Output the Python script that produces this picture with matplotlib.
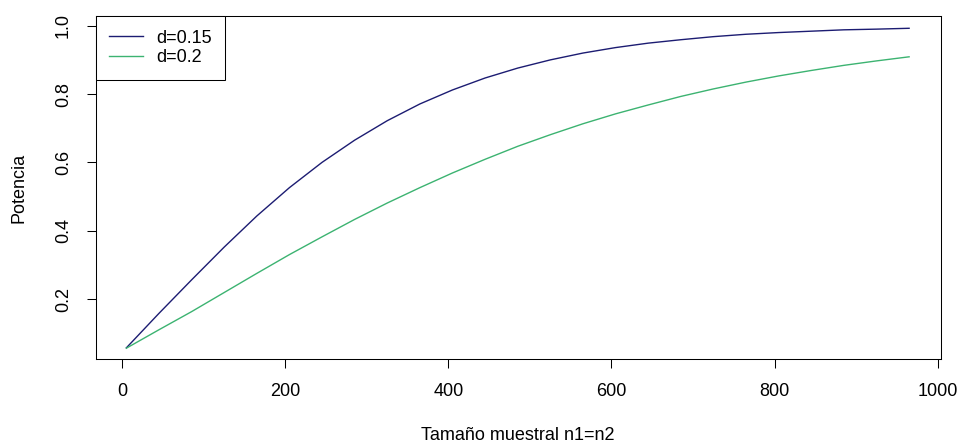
import matplotlib
matplotlib.use("Agg")
import matplotlib.pyplot as plt

# sample size per group
n = [5, 45, 85, 125, 165, 205, 245, 285, 325, 365, 405, 445, 485,
     525, 565, 605, 645, 685, 725, 765, 805, 845, 885, 925, 965]

# power curves
power_d015 = [0.057, 0.158, 0.256, 0.352, 0.443, 0.526, 0.600, 0.665, 0.722,
              0.771, 0.812, 0.847, 0.876, 0.900, 0.920, 0.936, 0.949, 0.959,
              0.968, 0.975, 0.980, 0.984, 0.988, 0.990, 0.9925]
power_d02 = [0.056, 0.110, 0.163, 0.219, 0.275, 0.330, 0.382, 0.433, 0.481,
             0.526, 0.569, 0.609, 0.647, 0.681, 0.713, 0.742, 0.768, 0.793,
             0.815, 0.835, 0.853, 0.869, 0.884, 0.897, 0.909]

labels = ["d=0.15", "d=0.2"]
x_ticks = [0, 200, 400, 600, 800, 1000]
y_ticks = [0.2, 0.4, 0.6, 0.8, 1.0]

plt.rcParams["font.family"] = ["Liberation Sans", "DejaVu Sans"]
plt.rcParams["font.size"] = 13

fig = plt.figure(figsize=(9.58, 4.45), dpi=100)
ax = fig.add_axes([0.0999, 0.1926, 0.882, 0.7714])

ax.plot(n, power_d015, color="#1c1c72", lw=1.0, label=labels[0])
ax.plot(n, power_d02, color="#3cb371", lw=1.0, label=labels[1])

ax.set_xlim(-32.6, 1003.7)
ax.set_ylim(0.0235, 1.0284)
ax.set_xticks(x_ticks)
ax.set_xticklabels([str(t) for t in x_ticks])
ax.set_yticks(y_ticks)
ax.set_yticklabels([f"{t:.1f}" for t in y_ticks], rotation=90, va="center")

ax.tick_params(direction="out", length=6.5, width=0.75, pad=10.5)
for s in ax.spines.values():
    s.set_linewidth(0.75)

# axis titles placed like R's mtext lines
fig.text(0.5406, 1 - 436 / 445, "Tamaño muestral n1=n2",
         ha="center", va="center")
fig.text(19 / 958, 1 - 187.6 / 445, "Potencia",
         ha="center", va="center", rotation=90)

leg = ax.legend(loc="upper left", borderaxespad=0, fancybox=False,
                edgecolor="black", framealpha=1, handlelength=1.85,
                handletextpad=0.75, borderpad=0.75, labelspacing=0.15)
leg.get_frame().set_linewidth(0.75)

fig.savefig("out.png", dpi=100)
